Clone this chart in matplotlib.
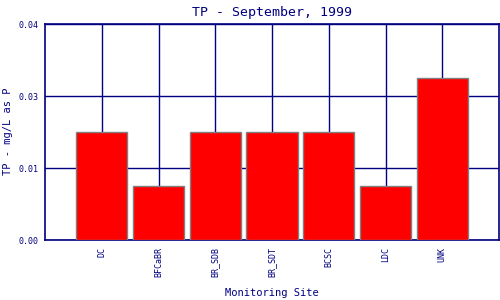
import matplotlib
matplotlib.use('Agg')
import matplotlib.pyplot as plt

sites = ['DC', 'BFCaBR', 'BR_SDB', 'BR_SDT', 'BCSC', 'LDC', 'UNK']
tp = [0.02, 0.01, 0.02, 0.02, 0.02, 0.01, 0.03]
y_ticks = [0.0, 0.04 / 3, 0.08 / 3, 0.04]

navy = '#000080'
plt.rcParams['font.family'] = 'DejaVu Sans Mono'

fig = plt.figure(figsize=(5, 3), dpi=100)
ax = fig.add_axes([0.09, 0.2, 0.908, 0.72])

pos = list(range(len(sites)))
ax.bar(pos, tp, width=0.9, color='red', edgecolor='#808080', linewidth=1, zorder=3)

ax.set_xlim(-1, 7)
ax.set_ylim(0, 0.04)
ax.set_xticks(pos)
ax.set_xticklabels(sites, rotation=90, fontsize=6, color=navy)
ax.set_yticks(y_ticks)
ax.set_yticklabels(['%.2f' % v for v in y_ticks], fontsize=6, color=navy)
ax.tick_params(length=0, pad=5)
ax.grid(True, color=navy, linewidth=1, zorder=0)
for s in ax.spines.values():
    s.set_color(navy)
    s.set_linewidth(1.2)

ax.set_title('TP - September, 1999', fontsize=9.5, color=navy, pad=6)
fig.text(0.544, 0.023, 'Monitoring Site', fontsize=7.5, color=navy,
         ha='center', va='center')
fig.text(0.017, 0.563, 'TP - mg/L as P', fontsize=7.5, color=navy,
         ha='center', va='center', rotation=90)

fig.savefig('out.png', dpi=100)
